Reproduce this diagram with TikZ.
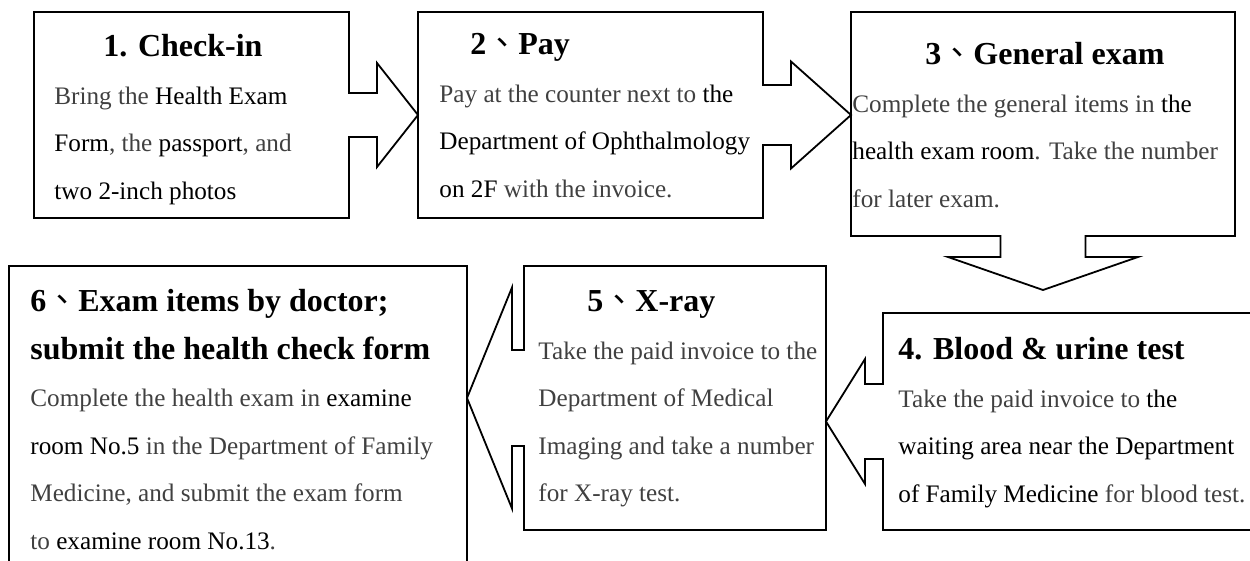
\documentclass[tikz,border=0pt]{standalone}
\usepackage{fontspec}
\setmainfont{Liberation Serif}
\newfontfamily\cjk{Noto Sans CJK TC}
\usetikzlibrary{calc}
\definecolor{txtgray}{gray}{0.25}
\newcommand\hilite[1]{{\color{black}#1}}
\newcommand\stagehead[1]{\leavevmode{\fontsize{16}{23.75}\selectfont\bfseries\color{black}#1}}
\newcommand\dun{{\cjk\mdseries 、}}

\begin{document}
\begin{tikzpicture}[x=0.5pt,y=-0.5pt,
  stagebox/.style={rectangle,inner sep=0pt,outer sep=0pt},
  outline/.style={draw=black,line width=0.9pt},
  txt/.style={inner sep=0pt,anchor=base west,text=txtgray,font=\fontsize{12.6}{23.75}\selectfont}]
\useasboundingbox (0,0) rectangle (1250,561);
\clip (0,0) rectangle (1250,561);

% boxes
\node[stagebox,minimum width=157.5pt,minimum height=103pt] (s1) at (191.5,115) {};
\node[stagebox,minimum width=172.5pt,minimum height=103pt] (s2) at (590.5,115) {};
\node[stagebox,minimum width=192pt,minimum height=112pt] (s3) at (1043,124) {};
\node[stagebox,minimum width=188.5pt,minimum height=108.5pt] (s4) at (1071.5,421.5) {};
\node[stagebox,minimum width=151pt,minimum height=132pt] (s5) at (675,398) {};
\node[stagebox,outline,minimum width=229pt,minimum height=154.5pt] (s6) at (238,420.5) {};

% 1 -> 2
\draw[outline] (s1.north west) -- (s1.north east) -- ($(s1.east)+(0,-22)$) -- ++(28,0) -- ++(0,-30)
  -- (s2.west) -- ($(s1.east)+(28,52)$) -- ++(0,-30) -- ($(s1.east)+(0,22)$)
  -- (s1.south east) -- (s1.south west) -- cycle;
% 2 -> 3
\draw[outline] (s2.north west) -- (s2.north east) -- ($(s2.east)+(0,-30)$) -- ++(28,0) -- ++(0,-23.5)
  -- (s2.east -| s3.west) -- ($(s2.east)+(28,53.5)$) -- ++(0,-23.5) -- ($(s2.east)+(0,30)$)
  -- (s2.south east) -- (s2.south west) -- cycle;
% 3 -> 4
\draw[outline] (s3.north west) -- (s3.north east) -- (s3.south east) -- ($(s3.south)+(42.5,0)$)
  -- ++(0,21) -- ++(52.5,0) -- ($(s3.south)+(0,54)$) -- ($(s3.south)+(-95,21)$) -- ++(52.5,0)
  -- ++(0,-21) -- (s3.south west) -- cycle;
% 4 -> 5
\draw[outline] (s4.north west) -- (s4.north east) -- (s4.south east) -- (s4.south west)
  -- ($(s4.west)+(0,37.5)$) -- ++(-18,0) -- ++(0,25) -- (s4.west -| s5.east)
  -- ($(s4.west)+(-18,-62.5)$) -- ++(0,25) -- ($(s4.west)+(0,-37.5)$) -- cycle;
% 5 -> 6
\draw[outline] (s5.north west) -- (s5.north east) -- (s5.south east) -- (s5.south west)
  -- ($(s5.west)+(0,48)$) -- ++(-12,0) -- ++(0,62.5) -- (s5.west -| s6.east)
  -- ($(s5.west)+(-12,-110.5)$) -- ++(0,62.5) -- ($(s5.west)+(0,-48)$) -- cycle;

% texts
\node[txt] (t1) at (54,57) {\parbox[t]{200pt}{\hspace*{24.5pt}\stagehead{1. Check-in}\\
  Bring the \hilite{Health Exam}\\
  \hilite{Form}, the \hilite{passport}, and\\
  \hilite{two 2-inch photos}}};
\node[txt] (t2) at (439,55) {\parbox[t]{200pt}{\hspace*{15.5pt}\stagehead{2\dun Pay}\\
  Pay at the counter next to \hilite{the}\\
  \hilite{Department of Ophthalmology}\\
  \hilite{on 2F} with the invoice.}};
\node[txt] (t3) at (852,65) {\parbox[t]{200pt}{\hspace*{36.5pt}\stagehead{3\dun General exam}\\
  Complete the general items in \hilite{the}\\
  \hilite{health exam room}. Take the number\\
  for later exam.}};
\node[txt] (t4) at (898,360) {\parbox[t]{200pt}{\stagehead{4. Blood \& urine test}\\
  Take the paid invoice to \hilite{the}\\
  \hilite{waiting area near the Department}\\
  \hilite{of Family Medicine} for blood test.}};
\node[txt] (t5) at (538,312) {\parbox[t]{200pt}{\hspace*{24.5pt}\stagehead{5\dun X-ray}\\
  Take the paid invoice to the\\
  Department of Medical\\
  Imaging and take a number\\
  for X-ray test.}};
\node[txt] (t6) at (30,312) {\parbox[t]{240pt}{\stagehead{6\dun Exam items by doctor;}\\
  \stagehead{submit the health check form}\\
  Complete the health exam in \hilite{examine}\\
  \hilite{room No.5} in the Department of Family\\
  Medicine, and submit the exam form\\
  to \hilite{examine room No.13}.}};
\end{tikzpicture}
\end{document}
